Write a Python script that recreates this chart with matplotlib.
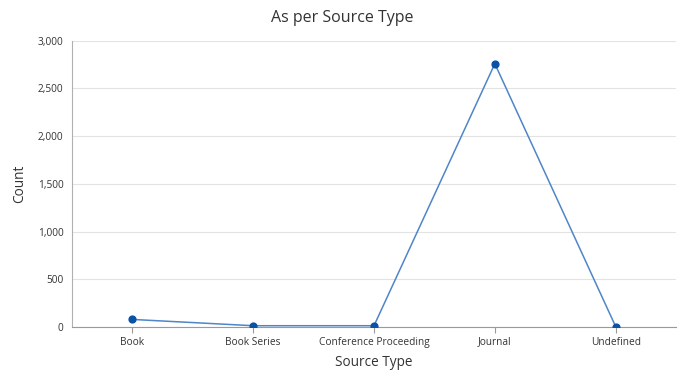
import matplotlib
matplotlib.use("Agg")
import matplotlib.pyplot as plt
from matplotlib.ticker import FuncFormatter

categories = ["Book", "Book Series", "Conference Proceeding", "Journal", "Undefined"]
counts = [78, 12, 12, 2760, 3]

plt.rcParams['font.family'] = ['Open Sans', 'DejaVu Sans']

fig = plt.figure(figsize=(6.85, 3.85), dpi=100)
ax = fig.add_axes([0.105, 0.151, 0.882, 0.743])

x = list(range(len(categories)))
ax.plot(x, counts, color="#4f85c9", linewidth=1.1, zorder=3)
ax.scatter(x, counts, color="#0a52a5", s=24, zorder=4)

ax.set_xlim(-0.5, len(categories) - 0.5)
ax.set_ylim(0, 3000)
ax.set_yticks(range(0, 3001, 500))
ax.yaxis.set_major_formatter(FuncFormatter(lambda v, p: f"{int(v):,}"))
ax.set_xticks(x)
ax.set_xticklabels(categories)

ax.grid(axis="y", color="#e3e3e3", linewidth=0.8)
ax.set_axisbelow(True)
for s in ["top", "right"]:
    ax.spines[s].set_visible(False)
ax.spines["left"].set_color("#b0b0b0")
ax.spines["bottom"].set_color("#9a9a9a")
ax.tick_params(axis="y", length=0, labelsize=7.3, colors="#333333", pad=6)
ax.tick_params(axis="x", length=4, color="#9a9a9a", labelsize=7.3, labelcolor="#333333", pad=3)

# title is centred on the whole figure, not on the axes
fig.suptitle("As per Source Type", fontsize=11.5, color="#333333", x=0.5, y=0.975, va="top")
ax.set_xlabel("Source Type", fontsize=9.8, color="#333333", labelpad=5)
ax.set_ylabel("Count", fontsize=9.8, color="#333333", labelpad=8)

fig.savefig("out.png", dpi=100)
